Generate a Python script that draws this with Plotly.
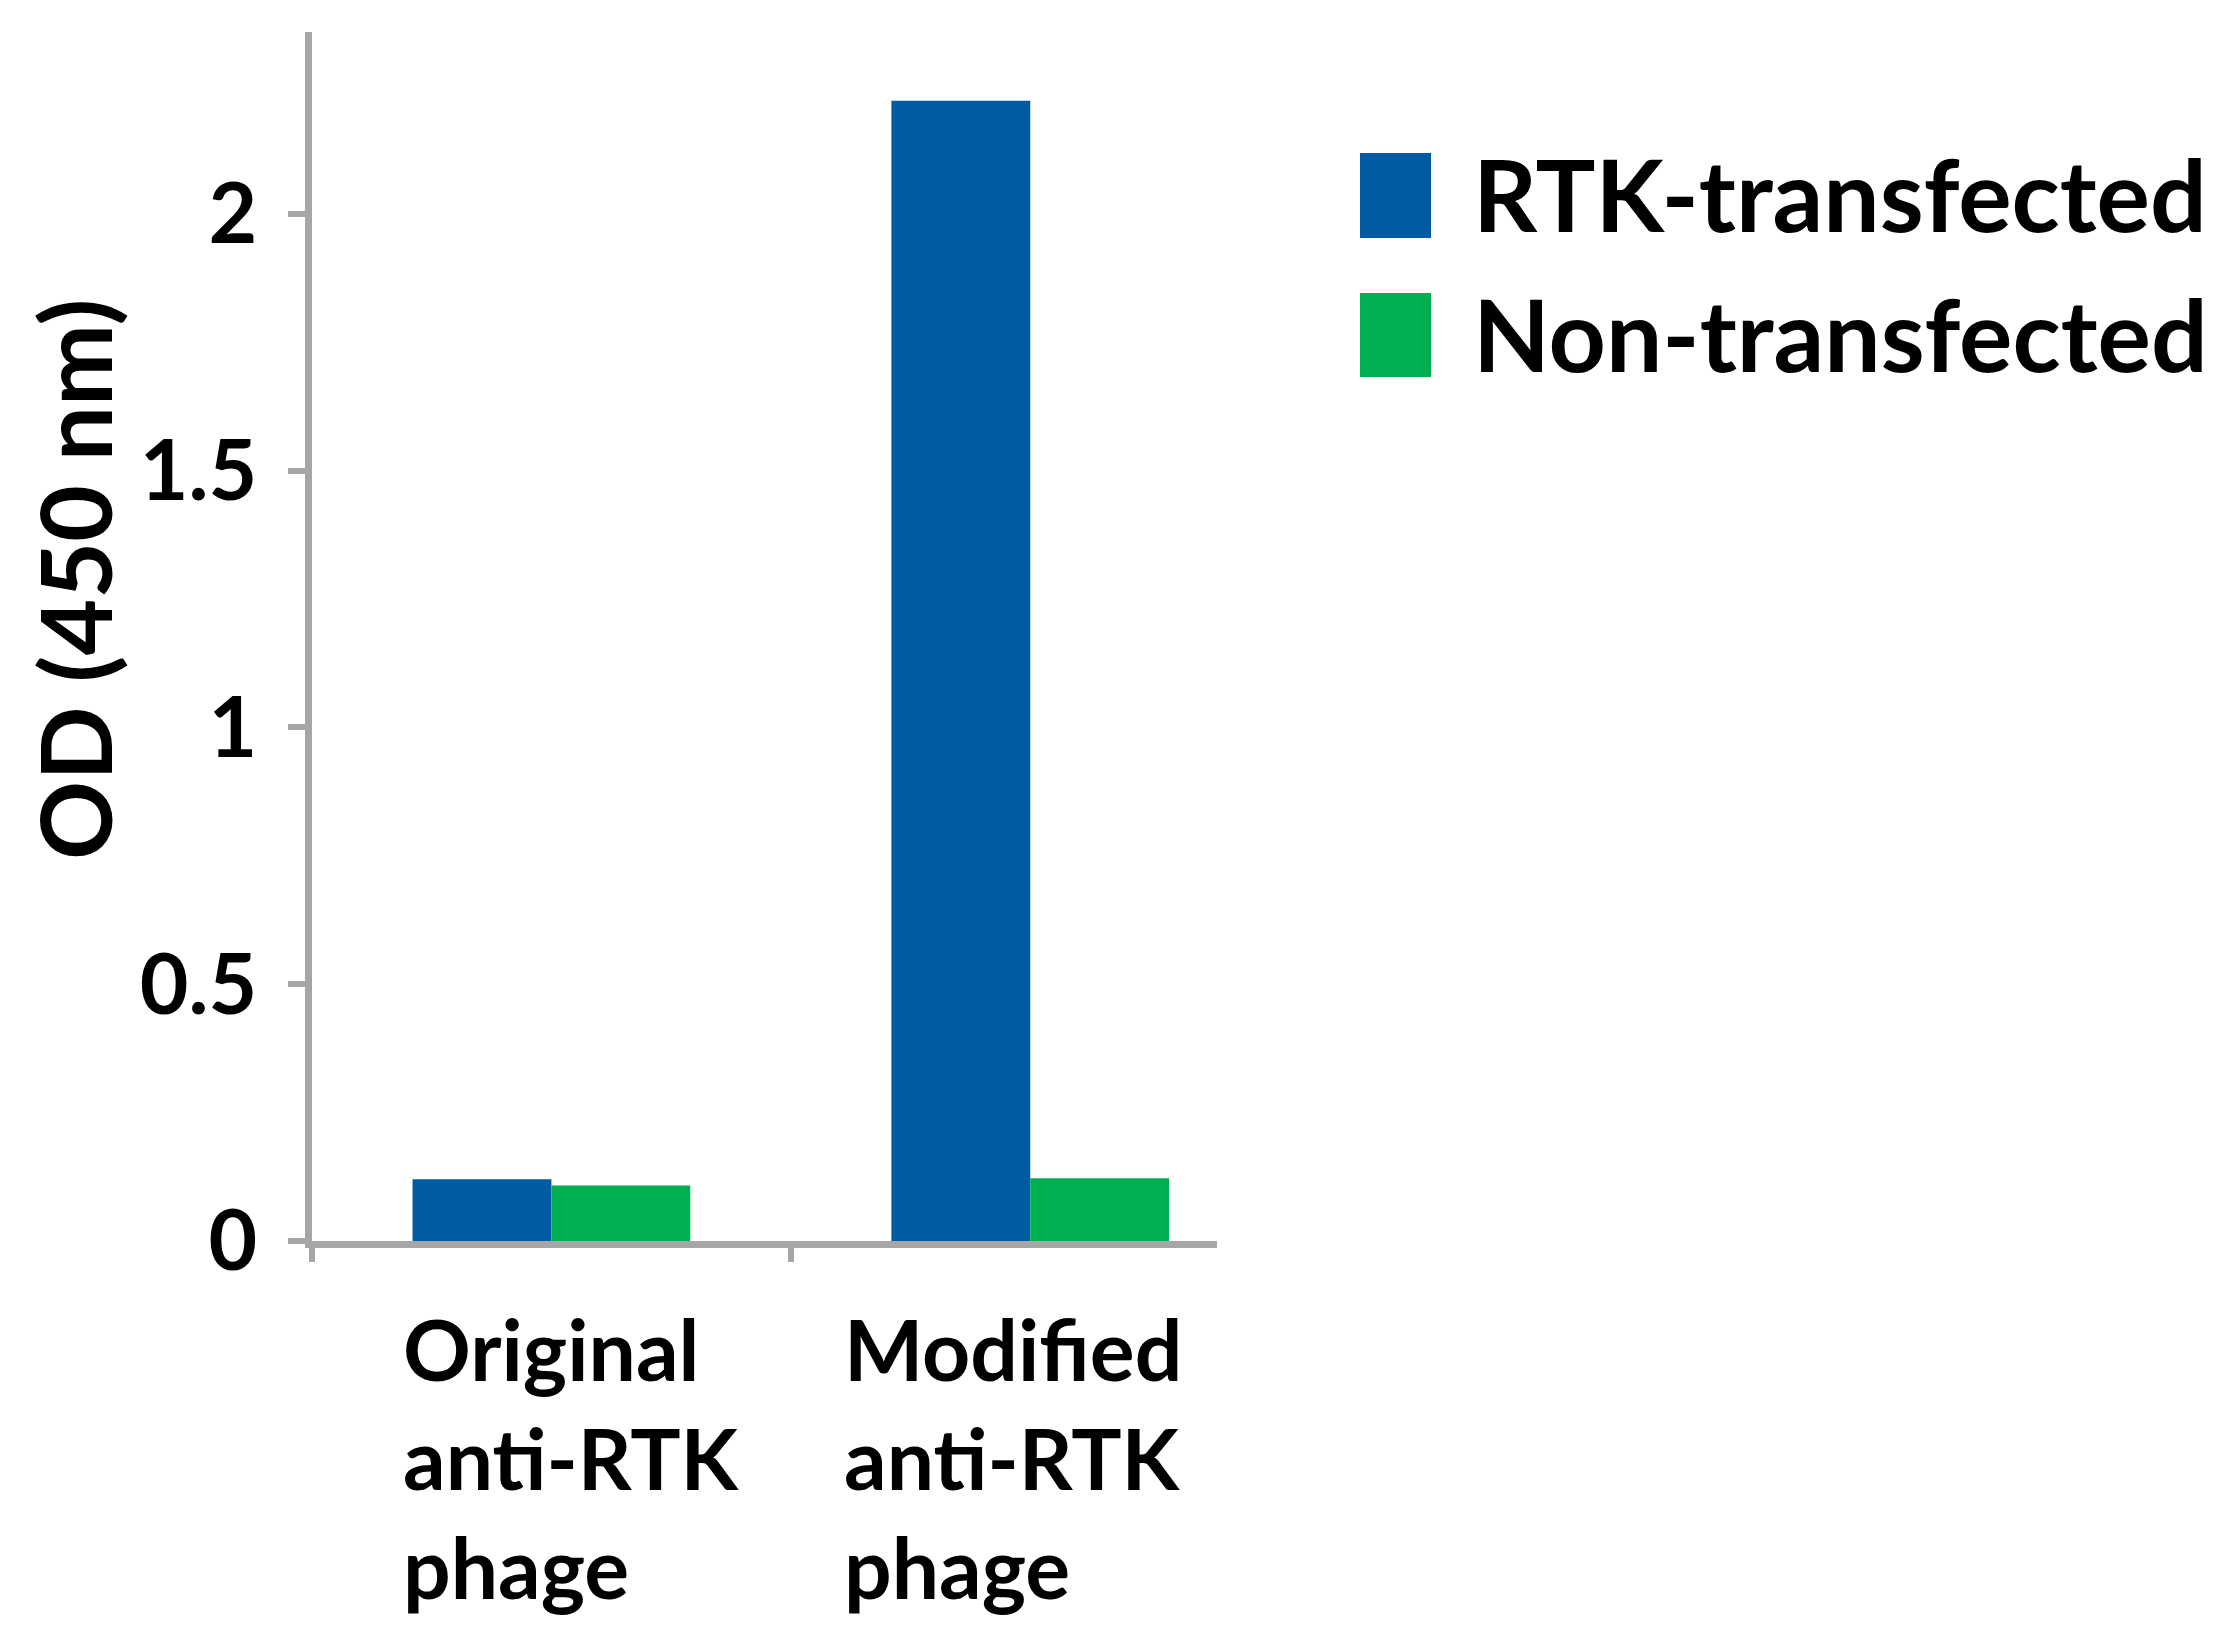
import plotly.graph_objects as go

categories = ["Original<br>anti-RTK<br>phage", "Modified<br>anti-RTK<br>phage"]
series_names = ["RTK-transfected", "Non-transfected"]
rtk_values = [0.12, 2.22]
non_values = [0.108, 0.122]
series_colors = ["#005BA1", "#00B050"]
y_ticks = [0, 0.5, 1, 1.5, 2]
y_tick_labels = ["0", "0.5", "1", "1.5", "2"]

W, H = 2238, 1645
L, R, T, B = 304, 1209, 24, 1233
FONT = "Lato"
AXIS_COLOR = "#A6A6A6"

fig = go.Figure()
for name, vals, col in zip(series_names, [rtk_values, non_values], series_colors):
    fig.add_trace(go.Bar(x=categories, y=vals, name=name, marker=dict(color=col, line=dict(width=0)),
                         showlegend=False))

fig.update_layout(
    width=W, height=H,
    margin=dict(l=L, r=W - R, t=T, b=H - B, pad=0),
    paper_bgcolor="white", plot_bgcolor="white",
    barmode="group", bargap=0.42, bargroupgap=0,
    font=dict(family=FONT, color="black"),
)
fig.update_xaxes(
    type="category", range=[-0.5, 1.39], showline=True, linecolor=AXIS_COLOR, linewidth=7,
    ticks="outside", tickson="boundaries", ticklen=14, tickwidth=6, tickcolor=AXIS_COLOR,
    showticklabels=False, showgrid=False, zeroline=False,
)
fig.update_yaxes(
    range=[0, 2.354], showline=True, linecolor=AXIS_COLOR, linewidth=7,
    ticks="outside", ticklen=17, tickwidth=6, tickcolor=AXIS_COLOR,
    tickvals=y_ticks, ticktext=y_tick_labels, ticklabelstandoff=14,
    tickfont=dict(family=FONT, size=84, color="black", weight="bold"),
    showgrid=False, zeroline=False,
)

def px_x(p):
    return (p - L) / (R - L)

def px_y(p):
    return (B - p) / (B - T)

annotations = []
# category labels, left aligned block near each category
label_xshift = [20, -17]
for c, xs in zip(categories, label_xshift):
    annotations.append(dict(x=c, xref="x", y=px_y(1449), yref="paper", text=c, showarrow=False,
                            xanchor="center", yanchor="middle", align="left", xshift=xs,
                            font=dict(family=FONT, size=84, color="black", weight="bold")))
# y axis title
annotations.append(dict(x=px_x(66), xref="paper", y=px_y(572), yref="paper", text="OD (450 nm)",
                        textangle=-90, showarrow=False, xanchor="center", yanchor="middle",
                        font=dict(family=FONT, size=98, color="black", weight="bold")))

# manual legend
shapes = []
leg_rows = [(145, 230), (285, 369)]
for (top, bot), name, col in zip(leg_rows, series_names, series_colors):
    shapes.append(dict(type="rect", xref="paper", yref="paper", x0=px_x(1352), x1=px_x(1423),
                       y0=px_y(bot), y1=px_y(top), fillcolor=col, line=dict(width=0)))
    annotations.append(dict(x=px_x(1463), xref="paper", y=px_y((top + bot) / 2 - 2), yref="paper",
                            text=name, showarrow=False, xanchor="left", yanchor="middle",
                            font=dict(family=FONT, size=100, color="black", weight="bold")))

fig.update_layout(annotations=annotations, shapes=shapes)
fig.write_html("out.html")
